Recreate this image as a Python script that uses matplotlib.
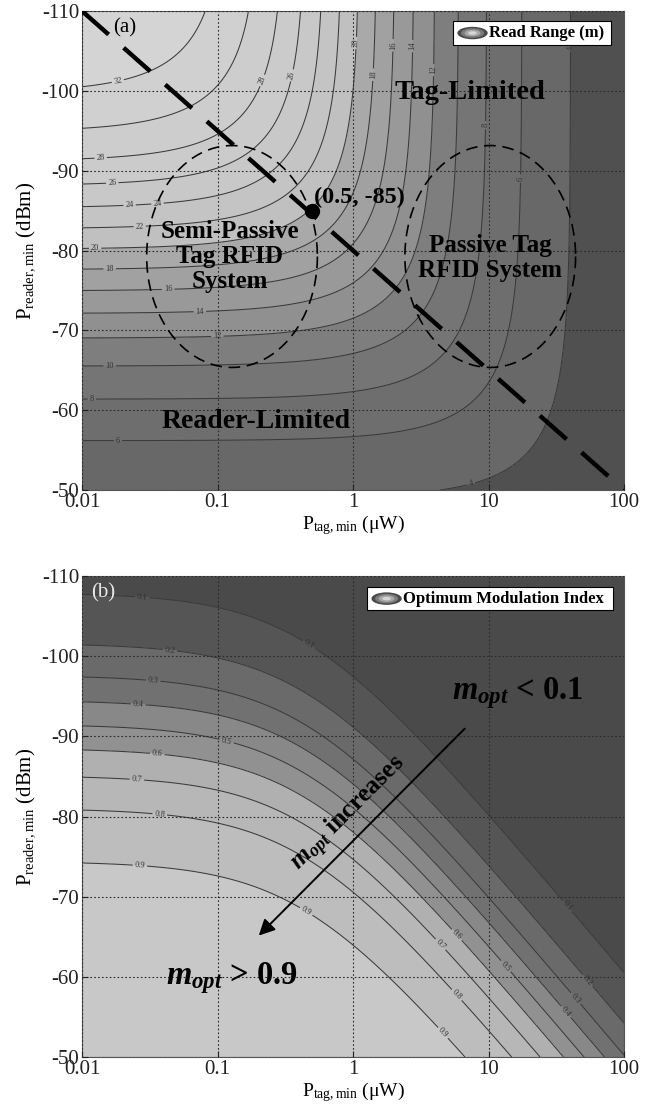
import numpy as np
import matplotlib
matplotlib.use('Agg')
import matplotlib.pyplot as plt
from matplotlib.patches import Rectangle, Ellipse

plt.rcParams['font.family'] = ['Liberation Serif', 'DejaVu Serif']
plt.rcParams['mathtext.fontset'] = 'custom'
plt.rcParams['mathtext.rm'] = 'Liberation Serif'
plt.rcParams['mathtext.it'] = 'Liberation Serif:italic:bold'
plt.rcParams['mathtext.bf'] = 'Liberation Serif:bold'

# ---- panel (a): read range (m), contour positions
range_levels = [4, 6, 8, 10, 12, 14, 16, 18, 20, 22, 24, 26, 28, 30, 32]
# where each contour meets the left edge (P_tag = 0.01 uW)
range_left_dbm = [-49.0, -56.8, -62.1, -66.1, -69.4, -72.4, -75.0, -77.4,
                  -79.8, -82.0, -84.5, -86.8, -89.6, -93.0, -100.75]
# where each contour meets the top edge (P_reader = -110 dBm)
range_top_uw = [41.3, 18.0, 9.75, 6.17, 4.03, 2.77, 2.01, 1.45,
                1.035, 0.762, 0.542, 0.361, 0.228, 0.1175, 0.0282]

# ---- panel (b): optimum modulation index
mod_levels = [0.1, 0.2, 0.3, 0.4, 0.5, 0.6, 0.7, 0.8, 0.9]
mod_left_dbm = [-107.9, -101.6, -97.6, -94.5, -91.5, -88.5, -85.1, -81.0, -74.4]
mod_knee_uw = 0.43   # P_tag where the m_opt contours start to bend

opt_point = (0.5, -85)
boundary_uw = [0.01, 100]
boundary_dbm = [-110, -50]

ptag_ticks = [0.01, 0.1, 1, 10, 100]
ptag_labels = ['0.01', '0.1', '1', '10', '100']
preader_ticks = [-110, -100, -90, -80, -70, -60, -50]

range_colors = ['#505050', '#686868', '#6e6e6e', '#757575', '#7e7e7e', '#909090',
                '#999999', '#a1a1a1', '#a9a9a9', '#c0c0c0', '#c4c4c4', '#c8c8c8',
                '#cbcbcb', '#cdcdcd', '#d0d0d0', '#d4d4d4']
mod_colors = ['#4a4a4a', '#555555', '#6a6a6a', '#717171', '#888888', '#919191',
              '#b0b0b0', '#b7b7b7', '#bdbdbd', '#c8c8c8']

# where the inline contour labels sit
range_label_at = [(0.0175, -102.9), (0.0136, -93), (0.0166, -89.6), (0.0358, -86.6),
                  (0.0226, -84.5), (0.0268, -82), (0.0125, -79.75), (0.016, -77.5),
                  (0.0432, -75), (0.074, -72.5), (0.0995, -69.5), (0.016, -66),
                  (0.0118, -62), (0.0184, -57), (7.5, -50.6),
                  (1.03, -106), (1.45, -102), (1.97, -105.7), (2.77, -105.6),
                  (4.0, -102.6), (9.8, -95.7), (18, -89), (41, -105.4),
                  (0.206, -101.4), (0.34, -102)]
mod_label_at = [(0.028, -107.6), (0.48, -101.6), (38.6, -68.9), (0.0446, -100.9),
                (54, -59.5), (0.0336, -97.1), (44.7, -57.4), (0.026, -94.1),
                (37.8, -55.75), (0.117, -89.5), (13.6, -61.4), (0.036, -88),
                (5.8, -65.2), (0.0255, -84.9), (4.6, -64.3), (0.0376, -80.5),
                (5.8, -57.7), (0.0268, -74.1), (0.455, -68.25), (4.78, -53.25)]


def fit_range_model():
    # 1/r^2 = a*P_tag + c + b*10^(P_reader/20), least squares on the edge readings
    rows, rhs = [], []
    for r, y in zip(range_levels, range_left_dbm):
        rows.append([0.01, 1.0, 10 ** (y / 20)])
        rhs.append(r ** -2.0)
    for r, p in zip(range_levels, range_top_uw):
        rows.append([p, 1.0, 10 ** (-110 / 20)])
        rhs.append(r ** -2.0)
    A = np.array(rows)
    t = np.array(rhs)
    coef = np.linalg.lstsq(A / t[:, None], np.ones_like(t), rcond=None)[0]
    return coef


def upright_labels(texts):
    # the y axis is reversed, so clabel hands back some labels upside down
    for txt in texts:
        ang = txt.get_rotation() % 360
        if 90 < ang < 270:
            ang -= 180
        txt.set_transform_rotates_text(False)
        txt.set_rotation(ang)


def style_axes(ax):
    ax.set_xscale('log')
    ax.set_xlim(0.01, 100)
    ax.set_ylim(-50, -110)
    ax.set_xticks(ptag_ticks)
    ax.set_xticklabels(ptag_labels)
    ax.xaxis.set_minor_locator(matplotlib.ticker.NullLocator())
    ax.set_yticks(preader_ticks)
    ax.set_yticklabels([str(v) for v in preader_ticks])
    ax.tick_params(direction='in', length=4, labelsize=15, colors='#222222', pad=2)
    ax.set_axisbelow(False)
    ax.grid(True, linestyle=(0, (1.5, 2)), color='#2a2a2a', linewidth=0.8)
    for s in ax.spines.values():
        s.set_color('#555555')
    ax.set_xlabel(r'P$_{\mathrm{tag,min}}$ (μW)', fontsize=14, labelpad=1)
    ax.set_ylabel(r'P$_{\mathrm{reader,min}}$ (dBm)', fontsize=15, labelpad=3)


def legend_box(ax, x0, x1, y0, y1, label):
    ax.add_patch(Rectangle((x0, y0), x1 - x0, y1 - y0, transform=ax.transAxes,
                           facecolor='white', edgecolor='black', lw=0.8, zorder=6))
    cx, cy = x0 + 0.036, (y0 + y1) / 2
    for k, c in enumerate(['#4a4a4a', '#7c7c7c', '#a8a8a8', '#d6d6d6']):
        f = 1 - k * 0.24
        ax.add_patch(Ellipse((cx, cy), 0.056 * f, 0.026 * f, transform=ax.transAxes,
                             facecolor=c, edgecolor='none', zorder=7))
    ax.text(cx + 0.031, cy, label, transform=ax.transAxes, ha='left', va='center',
            fontsize=12, fontweight='bold', zorder=8)


fig = plt.figure(figsize=(6.52, 11.07), dpi=100)
ax_a = fig.add_axes([82 / 652, 1 - 490 / 1107, 542 / 652, 479 / 1107])
ax_b = fig.add_axes([82 / 652, 1 - 1057 / 1107, 542 / 652, 481 / 1107])
style_axes(ax_a)
style_axes(ax_b)

P = np.logspace(-2, 2, 500)
Y = np.linspace(-110, -50, 500)
PP, YY = np.meshgrid(P, Y)

# ---------------- panel (a)
a, c, b = fit_range_model()
R = (a * PP + c + b * 10 ** (YY / 20)) ** -0.5
ax_a.contourf(PP, YY, R, levels=[0] + range_levels + [1000], colors=range_colors)
cs = ax_a.contour(PP, YY, R, levels=range_levels, colors='#3a3a3a', linewidths=0.75,
                  linestyles='solid')
lab_a = ax_a.clabel(cs, fmt='%d', fontsize=6, colors='#333333', inline=True,
                    inline_spacing=2, manual=range_label_at)
upright_labels(lab_a)

ax_a.plot(boundary_uw, boundary_dbm, color='black', lw=3.2, dashes=(8, 4.5),
          dash_capstyle='butt', zorder=4)

t = np.linspace(0, 2 * np.pi, 200)
for xc in [0.128, 10.3]:
    ax_a.plot(10 ** (np.log10(xc) + 0.63 * np.cos(t)), -79.25 + 13.9 * np.sin(t),
              color='black', lw=1.2, dashes=(7, 4), zorder=4)

ax_a.plot([opt_point[0]], [opt_point[1]], 'o', color='black', ms=10, zorder=5)
ax_a.text(0.515, -86.6, '(0.5, -85)', ha='left', va='center', fontsize=17.5,
          fontweight='bold', zorder=5)
ax_a.text(7.3, -99.75, 'Tag-Limited', ha='center', va='center', fontsize=20.5,
          fontweight='bold')
ax_a.text(0.1236, -79.25, 'Semi-Passive\nTag RFID\nSystem', ha='center', va='center',
          fontsize=18, fontweight='bold', linespacing=1.12)
ax_a.text(10.3, -79.1, 'Passive Tag\nRFID System', ha='center', va='center',
          fontsize=18, fontweight='bold', linespacing=1.1)
ax_a.text(0.192, -58.6, 'Reader-Limited', ha='center', va='center', fontsize=20,
          fontweight='bold')
ax_a.text(0.079, 0.965, '(a)', transform=ax_a.transAxes, ha='center', va='center',
          fontsize=15)
legend_box(ax_a, 0.6845, 0.976, 0.929, 0.979, 'Read Range (m)')

# ---------------- panel (b)
V = YY - 20 * np.log10(1 + PP / mod_knee_uw)
ax_b.contourf(PP, YY, V, levels=[-300] + mod_left_dbm + [50], colors=mod_colors)
cs_b = ax_b.contour(PP, YY, V, levels=mod_left_dbm, colors='#3a3a3a', linewidths=0.75,
                    linestyles='solid')
lab_b = ax_b.clabel(cs_b, fmt=dict(zip(cs_b.levels, [f'{m:g}' for m in mod_levels])),
                    fontsize=6, colors='#333333', inline=True, inline_spacing=2,
                    manual=mod_label_at)
upright_labels(lab_b)

ax_b.annotate('', xy=(0.195, -64.9), xytext=(6.9, -91.2),
              arrowprops=dict(arrowstyle='-|>', color='black', lw=1.4,
                              mutation_scale=24))
ax_b.text(0.93, -80.3, r'$m_{opt}$ increases', rotation=45, ha='center', va='center',
          fontsize=18.5, fontweight='bold')
ax_b.text(16.5, -95.4, r'$m_{opt}$ < 0.1', ha='center', va='center', fontsize=23.5,
          fontweight='bold')
ax_b.text(0.128, -59.9, r'$m_{opt}$ > 0.9', ha='center', va='center', fontsize=23.5,
          fontweight='bold')
ax_b.text(0.039, 0.965, '(b)', transform=ax_b.transAxes, ha='center', va='center',
          fontsize=15, color='#e8e8e8')
legend_box(ax_b, 0.526, 0.98, 0.929, 0.977, 'Optimum Modulation Index')

fig.savefig('out.png', dpi=100)
